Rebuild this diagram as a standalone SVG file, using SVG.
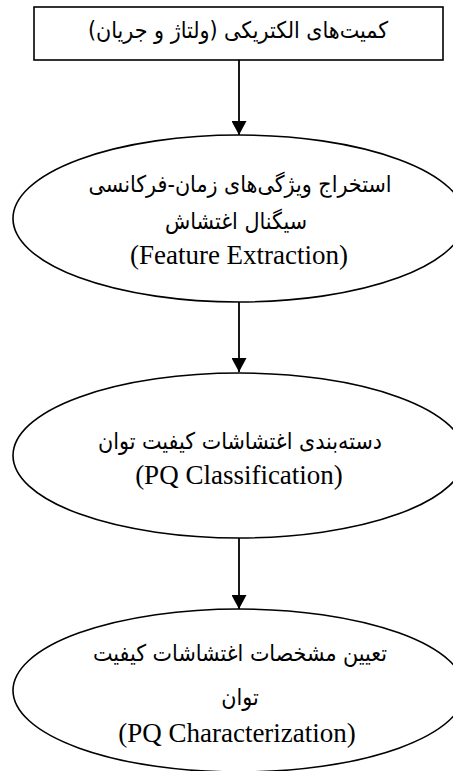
<svg xmlns="http://www.w3.org/2000/svg" width="453" height="771" viewBox="0 0 453 771">
<defs>
<marker id="ah" markerWidth="14" markerHeight="15" refX="14" refY="7.5" orient="auto" markerUnits="userSpaceOnUse" viewBox="0 0 14 15">
<path d="M0,0 L14,7.5 L0,15 Z" fill="#000"/>
</marker>
<style>
.shape{fill:#fff;stroke:#000;stroke-width:1.6}
.fa{font-family:"DejaVu Sans Condensed","DejaVu Sans",sans-serif;font-stretch:condensed;font-size:23px;fill:#000;text-anchor:middle;direction:rtl}
.en{font-family:"Liberation Serif","Times New Roman",serif;font-size:27px;fill:#000;text-anchor:middle}
.conn{stroke:#000;stroke-width:1.8;fill:none}
</style>
</defs>
<rect width="453" height="771" fill="#fff"/>
<g id="connectors">
<line class="conn" x1="239" y1="60" x2="239" y2="135" marker-end="url(#ah)"/>
<line class="conn" x1="239" y1="302" x2="239" y2="372" marker-end="url(#ah)"/>
<line class="conn" x1="239" y1="538" x2="239" y2="609" marker-end="url(#ah)"/>
</g>
<g id="node-input">
<rect class="shape" x="34" y="7" width="409" height="53"/>
<text class="fa" x="238" y="38" direction="rtl">کمیت‌های الکتریکی (ولتاژ و جریان)</text>
</g>
<g id="node-feature">
<ellipse class="shape" cx="239" cy="218.5" rx="226" ry="83.5"/>
<text class="fa" x="240" y="192" direction="rtl">استخراج ویژگی‌های زمان-فرکانسی</text>
<text class="fa" x="236" y="229" direction="rtl">سیگنال اغتشاش</text>
<text class="en" x="239" y="264">(Feature Extraction)</text>
</g>
<g id="node-classification">
<ellipse class="shape" cx="239" cy="455.5" rx="226" ry="82.5"/>
<text class="fa" x="240" y="449" direction="rtl">دسته‌بندی اغتشاشات کیفیت توان</text>
<text class="en" x="239" y="484">(PQ Classification)</text>
</g>
<g id="node-characterization">
<ellipse class="shape" cx="239" cy="690.5" rx="226" ry="81.5"/>
<text class="fa" x="240" y="661" direction="rtl">تعیین مشخصات اغتشاشات کیفیت</text>
<text class="fa" x="240" y="705" direction="rtl">توان</text>
<text class="en" x="237" y="742">(PQ Characterization)</text>
</g>
</svg>
